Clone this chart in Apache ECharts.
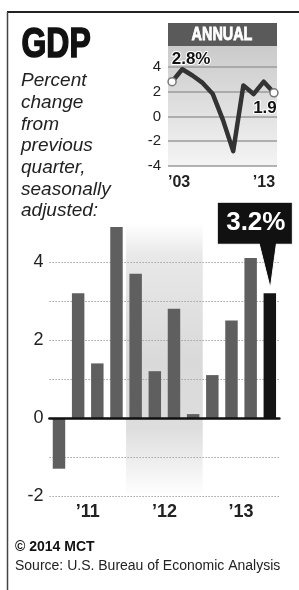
<!DOCTYPE html>
<html>
<head>
<meta charset="utf-8">
<style>
  html, body { margin: 0; padding: 0; background: #fff; }
  #main { width: 299px; height: 590px; }
</style>
<script src="https://cdn.jsdelivr.net/npm/echarts@6/dist/echarts.min.js"></script>
</head>
<body>
<div id="main"></div>
<script>
// quarterly GDP, 2011 Q1 - 2013 Q4
var quarters = ['2011 Q1', '2011 Q2', '2011 Q3', '2011 Q4',
                '2012 Q1', '2012 Q2', '2012 Q3', '2012 Q4',
                '2013 Q1', '2013 Q2', '2013 Q3', '2013 Q4'];
var quarterly = [-1.3, 3.2, 1.4, 4.9, 3.7, 1.2, 2.8, 0.1, 1.1, 2.5, 4.1, 3.2];
var yearLabels = ['\u201911', '\u201912', '\u201913'];
var quarterTicks = [-2, -1, 0, 1, 2, 3, 4];
var quarterTickLabels = [-2, 0, 2, 4];

// annual inset
var years = [2003, 2004, 2005, 2006, 2007, 2008, 2009, 2010, 2011, 2012, 2013];
var annual = [2.8, 3.8, 3.3, 2.7, 1.8, -0.3, -2.8, 2.5, 1.8, 2.8, 1.9];
var annualTicks = [2003, 2013];

var myChart = echarts.init(document.getElementById('main'));

var last = quarterly.length - 1;

var option = {
    animation: false,
    backgroundColor: '#fff',
    grid: [
        // main bars
        { left: 49.4, right: 19.6, top: 223, bottom: 94, outerBoundsMode: 'none' },
        // annual inset
        {
            left: 168, right: 22, top: 42, bottom: 424, outerBoundsMode: 'none',
            show: true, borderWidth: 0,
            backgroundColor: new echarts.graphic.LinearGradient(0, 0, 0, 1, [
                { offset: 0, color: '#c9c9c9' },
                { offset: 1, color: '#f4f4f4' }
            ])
        }
    ],
    xAxis: [
        {
            type: 'category', gridIndex: 0, data: quarters, z: 3,
            axisLine: { onZero: true, lineStyle: { color: '#111', width: 2.5 } },
            axisTick: { show: false },
            axisLabel: { show: false }
        },
        {
            type: 'category', gridIndex: 0, data: yearLabels, position: 'bottom',
            axisLine: { show: false }, axisTick: { show: false },
            axisLabel: {
                margin: 7, color: '#222', fontSize: 18, fontWeight: 'bold',
                fontFamily: 'Liberation Sans, Arial, sans-serif'
            }
        },
        // invisible helper for the 2012 band
        { type: 'value', gridIndex: 0, min: 0, max: 12, show: false },
        {
            type: 'value', gridIndex: 1, min: 2002.6, max: 2013.3,
            axisLine: { show: false }, axisTick: { show: false, customValues: annualTicks },
            splitLine: { show: false },
            axisLabel: {
                customValues: annualTicks, margin: 9, color: '#222',
                fontFamily: 'Liberation Sans, Arial, sans-serif',
                formatter: function (v) {
                    var s = '\u2019' + String(v).slice(2);
                    return v === annualTicks[0] ? '{l|' + s + '}' : '{r|' + s + '}';
                },
                rich: {
                    l: { fontSize: 16, fontWeight: 'bold', color: '#222', padding: [0, 0, 0, 14] },
                    r: { fontSize: 16, fontWeight: 'bold', color: '#222', padding: [0, 20, 0, 0] }
                }
            }
        }
    ],
    yAxis: [
        {
            type: 'value', gridIndex: 0, min: -2, max: 5, z: 1.5,
            axisLine: { show: false },
            axisTick: { show: false, customValues: quarterTicks },
            splitLine: { lineStyle: { color: '#a5a5a5', type: [1.5, 1.5], width: 1 } },
            axisLabel: {
                customValues: quarterTickLabels, margin: 6, color: '#222', fontSize: 18,
                fontFamily: 'Liberation Sans, Arial, sans-serif'
            }
        },
        {
            type: 'value', gridIndex: 1, min: -4, max: 6, interval: 2,
            axisLine: { show: false }, axisTick: { show: false },
            splitLine: { lineStyle: { color: '#9b9b9b', width: 1.5 } },
            axisLabel: {
                showMaxLabel: false, margin: 7, color: '#222', fontSize: 15,
                fontFamily: 'Liberation Sans, Arial, sans-serif'
            }
        }
    ],
    series: [
        {
            // 2012 shading
            type: 'line', xAxisIndex: 2, yAxisIndex: 0, data: [], z: 1,
            markArea: {
                silent: true,
                itemStyle: {
                    color: new echarts.graphic.LinearGradient(0, 0, 0, 1, [
                        { offset: 0, color: 'rgba(180,180,180,0)' },
                        { offset: 0.12, color: 'rgba(180,180,180,0.3)' },
                        { offset: 0.5, color: 'rgba(180,180,180,0.5)' },
                        { offset: 0.75, color: 'rgba(180,180,180,0.45)' },
                        { offset: 1, color: 'rgba(180,180,180,0)' }
                    ])
                },
                data: [[{ xAxis: 4, yAxis: 5 }, { xAxis: 8, yAxis: -2 }]]
            }
        },
        {
            type: 'bar', xAxisIndex: 0, yAxisIndex: 0, z: 2,
            barCategoryGap: '35%',
            data: quarterly.map(function (v, i) {
                return { value: v, itemStyle: { color: i === last ? '#141414' : '#5f5f5f' } };
            }),
            markPoint: {
                symbol: 'path://M0,0 L75,0 L75,42 L59,42 L53,86 L42,42 L0,42 Z',
                symbolSize: [75, 86],
                symbolOffset: [-15, -48],
                itemStyle: { color: '#111', borderColor: '#fff', borderWidth: 1 },
                label: {
                    show: true, position: 'inside', offset: [1, -22],
                    color: '#fff', fontSize: 26, fontWeight: 'bold',
                    fontFamily: 'Liberation Sans, Arial, sans-serif',
                    formatter: function (p) { return p.value + '%'; }
                },
                data: [{ coord: [quarters[last], quarterly[last]], value: quarterly[last] }]
            }
        },
        {
            type: 'line', xAxisIndex: 3, yAxisIndex: 1, z: 3,
            symbol: 'circle', symbolSize: 8,
            lineStyle: { color: '#333', width: 4.5, join: 'round' },
            itemStyle: { color: '#fff', borderColor: '#777', borderWidth: 1.5 },
            data: years.map(function (y, i) {
                var d = { value: [y, annual[i]] };
                if (i === 0) {
                    d.label = { show: true, position: 'top', offset: [19, -4], formatter: annual[i] + '%' };
                } else if (i === years.length - 1) {
                    d.label = { show: true, position: 'bottom', offset: [-9, -3], formatter: String(annual[i]) };
                } else {
                    d.symbol = 'none';
                }
                return d;
            }),
            label: {
                color: '#111', fontSize: 17, fontWeight: 'bold',
                fontFamily: 'Liberation Sans, Arial, sans-serif',
                textBorderColor: '#fff', textBorderWidth: 2
            }
        }
    ],
    graphic: [
        { type: 'line', shape: { x1: 7, y1: 12, x2: 299, y2: 12 }, style: { stroke: '#222', lineWidth: 2 } },
        { type: 'line', shape: { x1: 7.5, y1: 12, x2: 7.5, y2: 590 }, style: { stroke: '#444', lineWidth: 1.5 } },
        {
            type: 'text', x: 21.5, y: 45, scaleX: 0.76,
            style: {
                text: 'GDP', fill: '#111', fontSize: 42, fontWeight: 'bold',
                verticalAlign: 'middle', stroke: '#111', lineWidth: 1.6,
                fontFamily: 'Liberation Sans, Arial, sans-serif'
            }
        },
        {
            type: 'text', left: 21, top: 70,
            style: {
                text: 'Percent\nchange\nfrom\nprevious\nquarter,\nseasonally\nadjusted:',
                fill: '#222', fontSize: 19, fontStyle: 'italic', lineHeight: 21.7,
                fontFamily: 'Liberation Sans, Arial, sans-serif'
            }
        },
        { type: 'rect', shape: { x: 168, y: 23, width: 109, height: 23 }, style: { fill: '#5a5a5a' }, z: 10 },
        {
            type: 'text', x: 222, y: 35, z: 11, scaleX: 0.8,
            style: {
                text: 'ANNUAL', fill: '#fff', fontSize: 18, fontWeight: 'bold',
                align: 'center', verticalAlign: 'middle', stroke: '#fff', lineWidth: 0.8,
                fontFamily: 'Liberation Sans, Arial, sans-serif'
            }
        },
        {
            type: 'text', left: 15, top: 540,
            style: { text: '\u00a9 2014 MCT', fill: '#111', fontSize: 14, fontWeight: 'bold', fontFamily: 'Liberation Sans, Arial, sans-serif' }
        },
        {
            type: 'text', left: 15, top: 559,
            style: { text: 'Source: U.S. Bureau of Economic Analysis', fill: '#222', fontSize: 14, fontFamily: 'Liberation Sans, Arial, sans-serif' }
        }
    ]
};

myChart.setOption(option);
</script>
</body>
</html>
